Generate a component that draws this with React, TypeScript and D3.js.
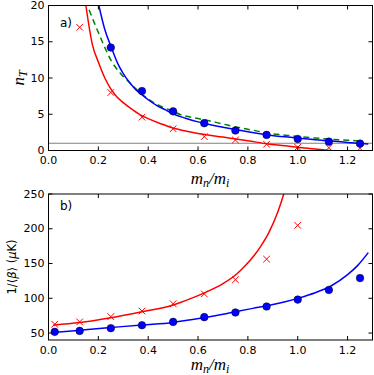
import React from 'react';
import * as d3 from 'd3';

// mass ratio grid of the measured points
const ratioA = [0.125, 0.25, 0.375, 0.5, 0.625, 0.75, 0.875, 1.0, 1.125, 1.25];
const ratioB = [0.025, 0.125, 0.25, 0.375, 0.5, 0.625, 0.75, 0.875, 1.0, 1.125, 1.25];

// panel a) n_T
const dotsAX = [0.25, 0.375, 0.5, 0.625, 0.75, 0.875, 1.0, 1.125, 1.25];
const dotsAY = [14.2, 8.2, 5.4, 3.77, 2.75, 2.15, 1.59, 1.22, 0.95];
const crossAY = [17.0, 8.0, 4.6, 3.0, 1.91, 1.45, 0.86, 0.44, 0.39, 0.3];

const blueAX = [0.202, 0.225, 0.253, 0.28, 0.3, 0.327, 0.35, 0.375, 0.4, 0.435, 0.47, 0.5, 0.55, 0.6, 0.65, 0.7, 0.758, 0.8, 0.882, 0.95, 1.007, 1.07, 1.135, 1.2, 1.283];
const blueAY = [20, 16.8, 14.15, 11.84, 10.6, 9.3, 8.4, 7.7, 7.0, 6.2, 5.6, 5.05, 4.45, 3.95, 3.55, 3.2, 2.84, 2.58, 2.15, 1.88, 1.69, 1.48, 1.32, 1.12, 0.88];

const greenAX = [0.163, 0.185, 0.206, 0.23, 0.253, 0.29, 0.327, 0.36, 0.395, 0.45, 0.502, 0.53, 0.6, 0.63, 0.7, 0.758, 0.82, 0.882, 0.95, 1.007, 1.07, 1.135, 1.2, 1.26];
const greenAY = [19.4, 17.5, 15.8, 13.9, 12.3, 10.6, 9.3, 8.2, 7.2, 6.1, 5.37, 4.95, 4.4, 4.2, 3.65, 3.2, 2.8, 2.38, 2.12, 1.91, 1.72, 1.55, 1.42, 1.3];

const redAX = [0.15, 0.176, 0.2, 0.226, 0.25, 0.273, 0.3, 0.33, 0.368, 0.4, 0.45, 0.502, 0.53, 0.6, 0.7, 0.76, 0.8, 0.88, 0.95, 1.0, 1.07, 1.13, 1.16];
const redAY = [20, 14.6, 12.2, 10.0, 8.5, 7.45, 6.6, 5.8, 4.92, 4.4, 3.7, 3.07, 2.84, 2.35, 1.85, 1.55, 1.35, 0.9, 0.65, 0.44, 0.22, 0.0, -0.1];

// panel b) 1/<beta>
const dotsBY = [51.7, 53.1, 57, 61.3, 66, 72.9, 79.6, 88.1, 98.1, 112, 129];
const crossBY = [62.7, 66, 73.6, 81.7, 92.1, 106.3, 126.7, 156.3, 204.9];

const blueBX = [0.018, 0.125, 0.25, 0.375, 0.5, 0.55, 0.63, 0.7, 0.754, 0.82, 0.882, 0.95, 1.007, 1.07, 1.135, 1.2, 1.24, 1.283];
const blueBY = [50.7, 54, 57.9, 61.7, 65.3, 68, 72.5, 77, 81, 85.5, 89.6, 95, 100.6, 108, 118, 134, 147, 165.7];

const redBX = [0.018, 0.125, 0.25, 0.375, 0.5, 0.529, 0.57, 0.63, 0.7, 0.754, 0.79, 0.825, 0.85, 0.882, 0.92, 0.947, 0.96];
const redBY = [61.3, 65, 72, 80.7, 90.3, 94, 99.5, 108.5, 121, 134.5, 147, 161.5, 174, 193, 224, 254, 272];

const xTicks = [0.0, 0.2, 0.4, 0.6, 0.8, 1.0, 1.2];
const yTicksA = [0, 5, 10, 15, 20];
const yTicksB = [50, 100, 150, 200, 250];

const W = 374;
const H = 375;
const left = 48.5;
const right = 372.5;
const font = 'DejaVu Sans';
const mathFont = 'Liberation Serif';

const x = d3.scaleLinear().domain([0, 1.3]).range([left, right]);
const yA = d3.scaleLinear().domain([0, 20]).range([150.5, 5.5]);
const yB = d3.scaleLinear().domain([40, 250]).range([340, 194]);

const pts = (xs: number[], ys: number[]) => xs.map((v, i) => [v, ys[i]] as [number, number]);

const Cross = ({ cx, cy }: { cx: number; cy: number }) => (
  <path d={`M${cx - 3.3},${cy - 3.3}L${cx + 3.3},${cy + 3.3}M${cx - 3.3},${cy + 3.3}L${cx + 3.3},${cy - 3.3}`} stroke="#ff0000" strokeWidth={1} fill="none" />
);

const Frame = ({ y, ticks, top, bottom }: { y: d3.ScaleLinear<number, number>; ticks: number[]; top: number; bottom: number }) => (
  <g>
    {xTicks.map(t => (
      <g key={'x' + t}>
        <line x1={x(t)} x2={x(t)} y1={bottom} y2={bottom - 4} stroke="black" />
        <line x1={x(t)} x2={x(t)} y1={top} y2={top + 4} stroke="black" />
        <text x={x(t)} y={bottom + 13.5} textAnchor="middle" fontSize={11} fontFamily={font}>{t.toFixed(1)}</text>
      </g>
    ))}
    {ticks.map(t => (
      <g key={'y' + t}>
        <line x1={left} x2={left + 4} y1={y(t)} y2={y(t)} stroke="black" />
        <line x1={right} x2={right - 4} y1={y(t)} y2={y(t)} stroke="black" />
        <text x={left - 4} y={y(t) + 3.5} textAnchor="end" fontSize={11} fontFamily={font}>{t}</text>
      </g>
    ))}
    <rect x={left} y={top} width={right - left} height={bottom - top} fill="none" stroke="black" strokeWidth={1} />
  </g>
);

const XLabel = ({ yPos }: { yPos: number }) => (
  <text x={210} y={yPos} textAnchor="middle" fontSize={17} fontFamily={mathFont} fontStyle="italic">
    m<tspan fontSize={12} dy={3}>n</tspan><tspan dy={-3}>/</tspan>m<tspan fontSize={12} dy={3}>i</tspan>
  </text>
);

export default function App() {
  const lineA = d3.line<[number, number]>().x(d => x(d[0])).y(d => yA(d[1])).curve(d3.curveMonotoneX);
  const lineB = d3.line<[number, number]>().x(d => x(d[0])).y(d => yB(d[1])).curve(d3.curveMonotoneX);
  return (
    <svg width={W} height={H} style={{ position: 'absolute', left: 0, top: 0, background: 'white' }}>
      <defs>
        <clipPath id="clipA"><rect x={left} y={5.5} width={right - left} height={145} /></clipPath>
        <clipPath id="clipB"><rect x={left} y={194} width={right - left} height={146} /></clipPath>
      </defs>

      {/* panel a */}
      <g clipPath="url(#clipA)">
        <line x1={left} x2={right} y1={yA(1)} y2={yA(1)} stroke="#808080" strokeWidth={1} />
        <path d={lineA(pts(redAX, redAY)) || ''} fill="none" stroke="#ff0000" strokeWidth={1.5} />
        <path d={lineA(pts(greenAX, greenAY)) || ''} fill="none" stroke="#008000" strokeWidth={1.5} strokeDasharray="6,4" />
        <path d={lineA(pts(blueAX, blueAY)) || ''} fill="none" stroke="#0000ff" strokeWidth={1.5} />
        {ratioA.map((r, i) => <Cross key={i} cx={x(r)} cy={yA(crossAY[i])} />)}
        {dotsAX.map((r, i) => <circle key={i} cx={x(r)} cy={yA(dotsAY[i])} r={3.8} fill="#0000ff" stroke="black" strokeWidth={0.5} />)}
      </g>
      <Frame y={yA} ticks={yTicksA} top={5.5} bottom={150.5} />
      <text x={60} y={27} fontSize={12} fontFamily={font}>a)</text>
      <XLabel yPos={184} />
      <text transform="translate(24,78) rotate(-90)" textAnchor="middle" fontSize={17} fontFamily={mathFont} fontStyle="italic">
        n<tspan fontSize={12} dy={3}>T</tspan>
      </text>

      {/* panel b */}
      <g clipPath="url(#clipB)">
        <path d={lineB(pts(redBX, redBY)) || ''} fill="none" stroke="#ff0000" strokeWidth={1.5} />
        <path d={lineB(pts(blueBX, blueBY)) || ''} fill="none" stroke="#0000ff" strokeWidth={1.5} />
        {crossBY.map((v, i) => <Cross key={i} cx={x(ratioB[i])} cy={yB(v)} />)}
        {dotsBY.map((v, i) => <circle key={i} cx={x(ratioB[i])} cy={yB(v)} r={3.8} fill="#0000ff" stroke="black" strokeWidth={0.5} />)}
      </g>
      <Frame y={yB} ticks={yTicksB} top={194} bottom={340} />
      <text x={60} y={210} fontSize={12} fontFamily={font}>b)</text>
      <XLabel yPos={370} />
      <text transform="translate(16,267) rotate(-90)" textAnchor="middle" fontSize={11.5} fontFamily={font}>
        1/⟨<tspan fontStyle="italic">β</tspan>⟩ (<tspan fontStyle="italic">μ</tspan>K)
      </text>
    </svg>
  );
}
